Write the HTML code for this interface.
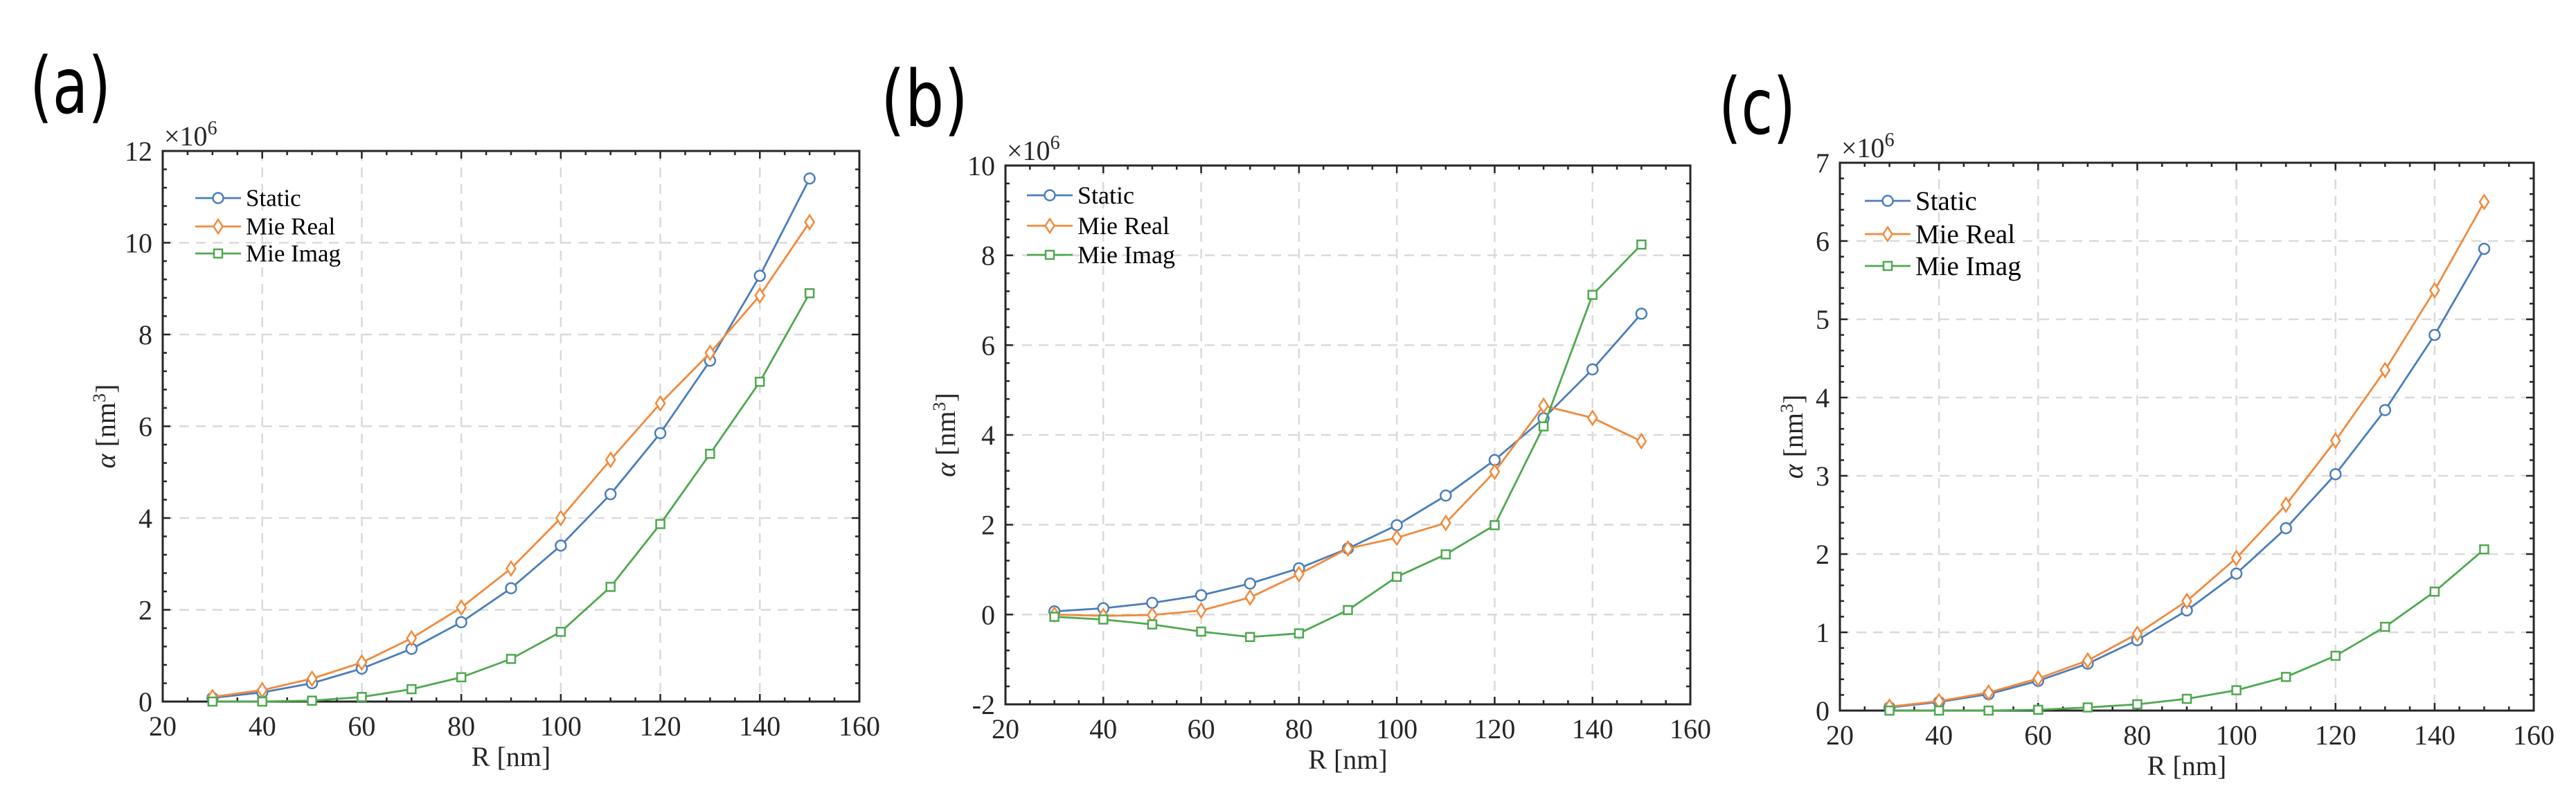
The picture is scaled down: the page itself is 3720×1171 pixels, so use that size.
<!DOCTYPE html>
<html><head><meta charset="utf-8"><style>
html,body{margin:0;padding:0;background:#fff;}
svg{display:block;}
.tk{font-family:"Liberation Serif",serif;font-size:40px;fill:#262626;}
.lg{font-family:"Liberation Serif",serif;fill:#000;}
.pl{font-family:"DejaVu Sans","Liberation Sans",sans-serif;font-size:112px;fill:#000;}
</style></head><body>
<svg id="fig" width="3720" height="1171" viewBox="0 0 3720 1171" xmlns="http://www.w3.org/2000/svg"></svg>
<script>
const radii = [30,40,50,60,70,80,90,100,110,120,130,140,150];
const seriesNames = ["Static","Mie Real","Mie Imag"];
const aStatic = [0.08,0.2,0.4,0.72,1.15,1.73,2.47,3.4,4.52,5.85,7.43,9.28,11.4];
const aReal = [0.1,0.25,0.5,0.85,1.38,2.05,2.9,4.0,5.27,6.5,7.6,8.85,10.45];
const aImag = [0,0,0.02,0.1,0.27,0.53,0.93,1.52,2.5,3.87,5.4,6.97,8.9];
const bStatic = [0.07,0.14,0.26,0.43,0.69,1.03,1.47,1.99,2.65,3.44,4.37,5.46,6.7];
const bReal = [0,-0.03,-0.01,0.09,0.38,0.9,1.47,1.71,2.04,3.18,4.65,4.38,3.86];
const bImag = [-0.05,-0.11,-0.22,-0.38,-0.5,-0.42,0.1,0.84,1.34,1.99,4.19,7.12,8.24];
const cStatic = [0.04,0.11,0.21,0.38,0.6,0.9,1.28,1.75,2.33,3.02,3.84,4.8,5.9];
const cReal = [0.05,0.12,0.23,0.41,0.64,0.98,1.4,1.95,2.63,3.45,4.35,5.37,6.5];
const cImag = [0,0,0,0.01,0.04,0.08,0.15,0.26,0.43,0.7,1.07,1.52,2.06];
const xTicks = [20,40,60,80,100,120,140,160];
const aYTicks = [0,2,4,6,8,10,12];
const bYTicks = [-2,0,2,4,6,8,10];
const cYTicks = [0,1,2,3,4,5,6,7];

const NS="http://www.w3.org/2000/svg";
const svg=document.getElementById('fig');
const colors=["#4a7ebb","#f08a3c","#4fa84f"];
function mk(tag,attrs,parent){const e=document.createElementNS(NS,tag);for(const k in attrs)e.setAttribute(k,attrs[k]);(parent||svg).appendChild(e);return e;}

function panel(p){
  const g=mk('g',{});
  
  
  const xmin=20,xmax=160,ymin=p.yt[0],ymax=p.yt[p.yt.length-1];
  const X=v=>p.L+(v-xmin)/(xmax-xmin)*(p.R-p.L);
  const Y=v=>p.B-(v-ymin)/(ymax-ymin)*(p.B-p.T);
  const pl=mk('text',{x:p.lx,y:p.ly,class:'pl',textLength:p.lw,lengthAdjust:'spacingAndGlyphs'},g);pl.textContent='('+p.id+')';
  
  
  xTicks.forEach(t=>{if(t>xmin&&t<xmax)mk('line',{x1:X(t),x2:X(t),y1:p.T,y2:p.B,stroke:'#dadada','stroke-width':2.5,'stroke-dasharray':'14 10'},g);});
  p.yt.forEach(t=>{if(t>ymin&&t<ymax)mk('line',{x1:p.L,x2:p.R,y1:Y(t),y2:Y(t),stroke:'#dadada','stroke-width':2.5,'stroke-dasharray':'14 10'},g);});
  for(let v=xmin;v<=xmax;v+=5){const L=(v%20===0)?11:6;
    mk('line',{x1:X(v),x2:X(v),y1:p.B,y2:p.B-L,stroke:'#262626','stroke-width':2.5},g);
    mk('line',{x1:X(v),x2:X(v),y1:p.T,y2:p.T+L,stroke:'#262626','stroke-width':2.5},g);}
  const ystep=(p.yt[1]-p.yt[0])/5;
  for(let i=0;i<=(p.yt.length-1)*5;i++){const v=ymin+i*ystep;const L=(i%5===0)?11:6;
    mk('line',{x1:p.L,x2:p.L+L,y1:Y(v),y2:Y(v),stroke:'#262626','stroke-width':2.5},g);
    mk('line',{x1:p.R,x2:p.R-L,y1:Y(v),y2:Y(v),stroke:'#262626','stroke-width':2.5},g);}
  const fr=mk('rect',{x:p.L,y:p.T,width:p.R-p.L,height:p.B-p.T,fill:'none',stroke:'#262626','stroke-width':3},g);
  
  
  xTicks.forEach(t=>{const e=mk('text',{x:X(t),y:p.B+49,class:'tk','text-anchor':'middle'},g);e.textContent=t;
    
    });
  p.yt.forEach(t=>{const e=mk('text',{x:p.L-15,y:Y(t)+14,class:'tk','text-anchor':'end'},g);e.textContent=t;
    
    });
  const ex=mk('text',{x:p.L+2,y:p.T-8,class:'tk'},g);ex.innerHTML='×10<tspan dy="-16" font-size="28">6</tspan>';
  
  
  const xt=mk('text',{x:(p.L+p.R)/2,y:p.B+93,class:'tk','text-anchor':'middle'},g);xt.textContent='R [nm]';
  
  
  const yx=p.L-p.yo+12,yy=(p.T+p.B)/2;
  const yt=mk('text',{x:yx,y:yy,class:'tk','text-anchor':'middle',transform:`rotate(-90 ${yx} ${yy})`},g);
  yt.innerHTML='<tspan font-style="italic">α</tspan> [nm<tspan dy="-14" font-size="26">3</tspan><tspan dy="14">]</tspan>';
  
  
  p.data.forEach((vals,si)=>{
    const sg=mk('g',{},g);
    
    
    mk('polyline',{points:vals.map((v,i)=>X(radii[i])+','+Y(v)).join(' '),fill:'none',stroke:colors[si],'stroke-width':2.8},sg);
    vals.forEach((v,i)=>marker(sg,si,X(radii[i]),Y(v)));
  });
  p.lgY.forEach((yy,si)=>{
    const lg=mk('g',{},g);
    
    
    mk('line',{x1:p.lgX,x2:p.lgX+66,y1:yy,y2:yy,stroke:colors[si],'stroke-width':2.8},lg);
    marker(lg,si,p.lgX+33,yy);
    const t=mk('text',{x:p.lgX+73,y:yy+p.lfs*0.33,class:'lg','font-size':p.lfs},lg);t.textContent=seriesNames[si];
  });
}
function marker(g,si,x,y){
  const c=colors[si];
  if(si===0)mk('circle',{cx:x,cy:y,r:7.5,fill:'#fff',stroke:c,'stroke-width':2.5},g);
  else if(si===1)mk('polygon',{points:`${x},${y-10} ${x+6.5},${y} ${x},${y+10} ${x-6.5},${y}`,fill:'#fff',stroke:c,'stroke-width':2.5},g);
  else mk('rect',{x:x-6,y:y-6,width:12,height:12,fill:'#fff',stroke:c,'stroke-width':2.5},g);
}
panel({id:'a',L:235,R:1241,T:218,B:1013,yt:aYTicks,data:[aStatic,aReal,aImag],lx:43,ly:163,lw:117,lgX:282,lgY:[286,327,366],lfs:35,yo:81});
panel({id:'b',L:1452,R:2441,T:239,B:1017,yt:bYTicks,data:[bStatic,bReal,bImag],lx:1272,ly:182,lw:126,lgX:1483,lgY:[282,326,368],lfs:36,yo:85});
panel({id:'c',L:2657,R:3659,T:235,B:1026,yt:cYTicks,data:[cStatic,cReal,cImag],lx:2482,ly:193,lw:111,lgX:2693,lgY:[290,338,384],lfs:39,yo:66});
</script>
</body></html>
